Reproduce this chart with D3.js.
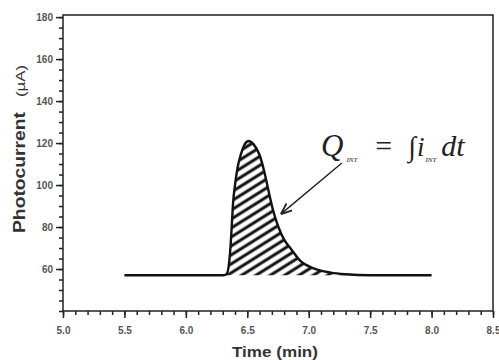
<!DOCTYPE html>
<html>
<head>
<meta charset="utf-8">
<script src="https://cdn.jsdelivr.net/npm/d3@7"></script>
<style>
  body { margin: 0; background: #fff; }
  svg { display: block; }
</style>
</head>
<body>
<div id="chart"></div>
<script>
// curve: time (min), photocurrent (µA)
const times   = [5.5, 6.30, 6.33, 6.35, 6.365, 6.375, 6.385, 6.40, 6.42, 6.45, 6.48,  6.51, 6.55,  6.60,  6.64, 6.67, 6.71, 6.75, 6.80, 6.85, 6.93, 7.04, 7.18, 7.30, 7.50, 8.0];
const current = [57,  57,   57.5, 62,   72,    82,    92,    100,  108,  115,  119.5, 121,  119.5, 114.3, 106,  98,   88,   80.5, 74,   70,   64,   60.3, 58.3, 57.5, 57,   57];
const baseLevel = 57;
const xTicks = [5.0, 5.5, 6.0, 6.5, 7.0, 7.5, 8.0, 8.5];
const yTicks = [60, 80, 100, 120, 140, 160, 180];

const W = 499, H = 360;
const margin = { top: 15, right: 6, bottom: 49, left: 63 },
    width = W - margin.left - margin.right,
    height = H - margin.top - margin.bottom;

const data = times.map((t, i) => ({ t: t, v: current[i] }));

const x = d3.scaleLinear().domain([5.0, 8.5]).range([0, width]);
const y = d3.scaleLinear().domain([40, 181]).range([height, 0]);

const svg = d3.select("#chart").append("svg")
    .attr("width", W)
    .attr("height", H);

const defs = svg.append("defs");
defs.append("pattern")
    .attr("id", "hatch")
    .attr("patternUnits", "userSpaceOnUse")
    .attr("width", 7.6).attr("height", 8)
    .attr("patternTransform", "rotate(58)")
    .append("line")
    .attr("x1", 3.8).attr("y1", -1).attr("x2", 3.8).attr("y2", 9)
    .attr("stroke", "#111").attr("stroke-width", 3);

defs.append("marker")
    .attr("id", "arrow")
    .attr("viewBox", "0 0 10 10")
    .attr("refX", 9).attr("refY", 5)
    .attr("markerWidth", 8).attr("markerHeight", 8)
    .attr("orient", "auto")
    .append("path")
    .attr("d", "M0,1 L10,5 L0,9")
    .attr("fill", "none")
    .attr("stroke", "#222")
    .attr("stroke-width", 1.6);

const g = svg.append("g")
    .attr("transform", "translate(" + margin.left + "," + margin.top + ")");

// frame
g.append("rect")
    .attr("width", width).attr("height", height)
    .attr("fill", "none").attr("stroke", "#222").attr("stroke-width", 1.5);

// axes with minor ticks
const xMinor = d3.range(5.0, 8.5001, 0.1);
const yMinor = d3.range(40, 180.001, 5);

g.append("g")
    .attr("transform", "translate(0," + height + ")")
    .call(d3.axisBottom(x).tickValues(xMinor).tickSize(4).tickFormat(""))
    .call(a => a.select(".domain").remove());
g.append("g")
    .attr("class", "axis")
    .attr("transform", "translate(0," + height + ")")
    .call(d3.axisBottom(x).tickValues(xTicks).tickSize(7).tickPadding(9).tickFormat(d3.format(".1f")))
    .call(a => a.select(".domain").remove());

g.append("g")
    .call(d3.axisLeft(y).tickValues(yMinor).tickSize(4).tickFormat(""))
    .call(a => a.select(".domain").remove());
g.append("g")
    .attr("class", "axis")
    .call(d3.axisLeft(y).tickValues(yTicks).tickSize(7).tickPadding(3))
    .call(a => a.select(".domain").remove());

g.selectAll(".tick line").attr("stroke", "#222").attr("stroke-width", 1.5);
g.selectAll(".axis text")
    .attr("fill", "#555")
    .style("font-family", "Liberation Sans, Arial, sans-serif")
    .style("font-weight", "bold")
    .style("font-size", "10px");

// hatched area under the peak
const area = d3.area()
    .x(d => x(d.t))
    .y0(y(baseLevel))
    .y1(d => y(d.v))
    .curve(d3.curveMonotoneX);
g.append("path")
    .datum(data)
    .attr("d", area)
    .attr("fill", "url(#hatch)");

const line = d3.line()
    .x(d => x(d.t))
    .y(d => y(d.v))
    .curve(d3.curveMonotoneX);
g.append("path")
    .datum(data)
    .attr("d", line)
    .attr("fill", "none")
    .attr("stroke", "#111")
    .attr("stroke-width", 2.4);

// arrow from the formula to the curve
g.append("line")
    .attr("x1", x(7.27)).attr("y1", y(110.5))
    .attr("x2", x(6.78)).attr("y2", y(86.5))
    .attr("stroke", "#222").attr("stroke-width", 1.4)
    .attr("marker-end", "url(#arrow)");

// formula
const f = g.append("text")
    .attr("x", x(7.1)).attr("y", y(114))
    .attr("fill", "#222")
    .style("font-family", "Liberation Serif, Times New Roman, serif")
    .style("font-style", "italic");
f.append("tspan").style("font-size", "31px").text("Q");
f.append("tspan").style("font-size", "7px").attr("dy", 6).attr("dx", 3).text("INT");
f.append("tspan").style("font-size", "30px").style("font-style", "normal").attr("dy", -6).attr("dx", 18).text("=");
f.append("tspan").style("font-size", "28px").style("font-style", "normal").attr("dx", 16).text("∫");
f.append("tspan").style("font-size", "27px").attr("dx", 1).text("i");
f.append("tspan").style("font-size", "7px").attr("dy", 6).attr("dx", 1).text("INT");
f.append("tspan").style("font-size", "30px").attr("dy", -6).attr("dx", 5).text("dt");

// axis titles
svg.append("text")
    .attr("x", 275)
    .attr("y", 357)
    .attr("text-anchor", "middle")
    .attr("fill", "#333")
    .attr("textLength", 86)
    .attr("lengthAdjust", "spacingAndGlyphs")
    .style("font-family", "Liberation Sans, Arial, sans-serif")
    .style("font-weight", "bold")
    .style("font-size", "15px")
    .text("Time (min)");

const yt = svg.append("g")
    .attr("transform", "translate(25,0) rotate(-90)")
    .attr("fill", "#333")
    .style("font-family", "Liberation Sans, Arial, sans-serif");
yt.append("text")
    .attr("x", -233).attr("y", 0)
    .attr("textLength", 121)
    .attr("lengthAdjust", "spacingAndGlyphs")
    .style("font-weight", "bold").style("font-size", "17px")
    .text("Photocurrent");
yt.append("text")
    .attr("x", -97).attr("y", 0)
    .attr("textLength", 32)
    .attr("lengthAdjust", "spacingAndGlyphs")
    .style("font-size", "13px")
    .text("(µA)");
</script>
</body>
</html>
